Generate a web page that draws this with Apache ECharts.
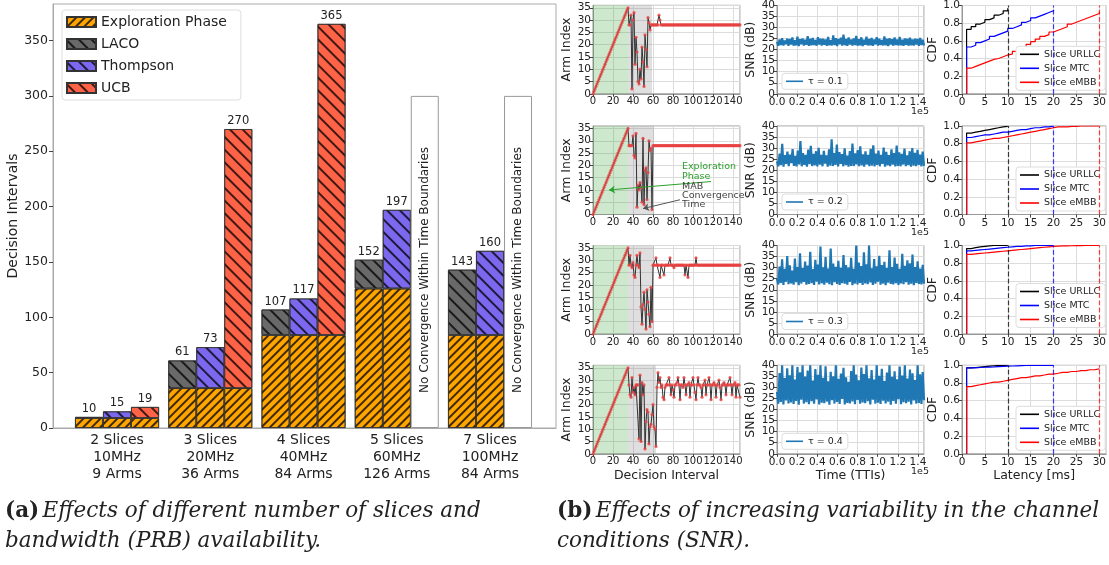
<!DOCTYPE html>
<html><head><meta charset="utf-8">
<script src="https://cdn.jsdelivr.net/npm/echarts@6/dist/echarts.min.js"></script>
<style>html,body{margin:0;padding:0;background:#fff}#c{width:1109px;height:565px}</style>
</head><body><div id="c"></div>
<script>
// ---------------- (a) data ----------------
const categories = ['2 Slices\n10MHz\n9 Arms', '3 Slices\n20MHz\n36 Arms', '4 Slices\n40MHz\n84 Arms', '5 Slices\n60MHz\n126 Arms', '7 Slices\n100MHz\n84 Arms'];
const explorationPhase = [9, 36, 84, 126, 84];
const lacoTotal = [10, 61, 107, 152, 143];
const thompsonTotal = [15, 73, 117, 197, 160];
const ucbTotal = [19, 270, 365, null, null];
const noConvergence = [null, null, null, 300, 300];
const noConvergenceText = 'No Convergence Within Time Boundaries';
const yTicksA = [0, 50, 100, 150, 200, 250, 300, 350];

// ---------------- (b) data ----------------
const tauLabels = ['τ = 0.1', 'τ = 0.2', 'τ = 0.3', 'τ = 0.4'];
const explorationEnd = [35, 35, 35, 35];
const convergenceEnd = [59, 61, 61, 63];

const arm01 = [0,1,2,3,4,5,6,7,8,9,10,11,12,13,14,15,16,17,18,19,20,21,22,23,24,25,26,27,28,29,30,31,32,33,34,35,
 28,28,32,2,30,33,12,23,17,5,4,10,6,19,13,3,24,18,11,31,29,26,28,
 28,28,28,28,28,28,28,32,30,
 28,28,28,28,28,28,28,28,28,28,28,28,28,28,28,28,28,28,28,28,
 28,28,28,28,28,28,28,28,28,28,28,28,28,28,28,28,28,28,28,28,
 28,28,28,28,28,28,28,28,28,28,28,28,28,28,28,28,28,28,28,28,
 28,28,28,28,28,28,28,28,28,28,28,28,28,28,28,28,28,28,28,28];
const arm02 = [0,1,2,3,4,5,6,7,8,9,10,11,12,13,14,15,16,17,18,19,20,21,22,23,24,25,26,27,28,29,30,31,32,33,34,35,
 28,28,28,28,32,24,23,33,3,12,10,13,11,5,31,4,18,19,6,17,30,26,27,2,
 28,28,28,28,28,28,28,28,
 28,28,28,28,28,28,28,28,28,28,28,28,28,28,28,28,28,28,28,28,
 28,28,28,28,28,28,28,28,28,28,28,28,28,28,28,28,28,28,28,28,
 28,28,28,28,28,28,28,28,28,28,28,28,28,28,28,28,28,28,28,28,
 28,28,28,28,28,28,28,28,28,28,28,28,28,28,28,28,28,28,28,28];
const arm03 = [0,1,2,3,4,5,6,7,8,9,10,11,12,13,14,15,16,17,18,19,20,21,22,23,24,25,26,27,28,29,30,31,32,33,34,35,
 28,32,28,27,29,24,23,28,32,28,27,33,11,4,12,17,10,2,18,13,8,3,19,5,
 28,28,28,31,28,28,28,23,28,28,28,24,28,28,28,28,28,31,28,28,28,27,
 28,28,28,28,28,28,28,28,28,28,24,28,28,23,28,28,28,28,28,28,28,31,
 28,28,28,28,28,28,28,28,28,28,28,28,28,28,28,28,28,28,28,28,28,28,
 28,28,28,28,28,28,28,28,28,28,28,28,28,28,28,28,28,28,28,28,28,28];
const arm04 = [0,1,2,3,4,5,6,7,8,9,10,11,12,13,14,15,16,17,18,19,20,21,22,23,24,25,26,27,28,29,30,31,32,33,34,35,
 28,24,23,31,25,27,24,28,28,28,6,32,5,29,24,28,2,13,18,17,4,11,12,16,20,11,10,3,
 27,33,29,31,27,28,23,22,27,28,28,28,31,28,24,28,26,23,28,28,29,31,28,22,28,28,27,31,28,24,28,28,29,23,28,28,31,28,25,22,28,31,28,28,27,23,28,28,30,24,28,28,31,28,22,28,28,29,28,23,28,28,30,27,22,28,28,29,28,24,28,28,28,31,28,24,28,28,29,23,28,28,28,23];
const armRows = [arm01, arm02, arm03, arm04];

const snrSpanTTI = 146000;
const snr01 = [23.5,21.8,24.6,22.1,25.2,21.9,24.1,22.5,25.0,21.7,24.8,22.3,25.5,21.8,24.2,22.0,25.9,21.6,24.7,22.4,25.1,21.9,24.5,22.2,26.1,21.7,24.9,22.0,25.3,22.1,24.4,21.8,25.6,22.3,24.9,21.9,25.0,22.2,24.6,21.7,25.8,22.0,24.3,21.9,26.5,22.1,25.2,21.6,24.8,22.4,25.4,21.8,26.8,22.0,24.9,21.7,25.5,22.3,24.6,21.9,25.1,22.1,26.2,21.8,24.7,22.0,25.6,21.6,24.5,22.2,25.9,21.9,24.8,22.0,25.3,21.7,24.6,22.4,25.7,21.8,25.0,22.1,24.4,21.9,26.0,22.0,24.9,21.6,25.2,22.3,24.7,21.8,25.5,22.1,24.6,21.9,25.8,22.0,24.5,21.7,25.1,22.2,24.9,21.8,25.4,22.0,24.6,21.9,25.0,22.3,24.8,21.7,25.3,22.1,24.5,21.9];
const snr02 = [24.0,21.8,27.5,22.3,32.0,21.6,26.8,22.9,28.4,21.9,27.1,23.2,29.6,22.0,26.5,21.7,28.9,22.6,33.2,21.8,27.7,22.4,26.9,21.6,29.3,22.8,31.0,21.9,27.4,22.2,28.6,21.7,30.1,22.5,27.0,21.8,28.8,23.0,26.7,21.6,29.5,22.1,34.0,21.9,27.8,22.4,31.6,21.7,28.2,22.9,27.3,21.8,29.9,22.3,26.6,21.6,28.7,22.0,32.1,21.9,27.6,22.7,29.1,21.8,30.8,22.2,27.2,21.6,28.5,22.6,26.9,21.9,29.7,22.1,31.3,21.7,27.5,22.4,28.9,21.8,27.0,22.9,30.2,21.6,28.3,22.2,26.8,21.9,29.4,22.5,27.7,21.7,31.1,22.0,28.1,21.8,27.4,22.6,29.8,21.9,26.7,22.3,28.6,21.6,30.0,22.1,27.9,21.8,29.2,22.4,27.1,21.7,28.4,22.0];
const snr03 = [25.0,22.4,30.5,23.1,33.8,22.2,29.4,23.6,35.2,22.5,31.0,22.9,28.7,22.3,34.1,23.4,30.2,22.1,36.5,22.8,29.8,23.5,32.7,22.3,30.9,22.6,37.2,23.0,29.3,22.2,33.5,23.7,31.4,22.4,39.5,22.9,30.1,22.3,34.8,23.2,29.6,22.5,38.6,22.1,31.8,23.4,30.4,22.6,33.1,22.2,29.9,23.0,35.7,22.7,31.2,22.3,30.0,23.5,34.4,22.1,29.5,22.8,40.0,22.4,32.3,23.1,30.7,22.2,36.9,22.9,31.5,22.5,40.0,23.3,29.7,22.2,33.9,22.7,30.6,23.6,35.3,22.3,31.1,22.8,32.6,22.1,29.8,23.2,37.8,22.6,30.3,22.4,34.6,23.0,31.7,22.2,29.4,22.9,36.2,22.5,30.8,23.4,33.3,22.3,31.9,22.7,35.9,22.1,30.2,23.1,32.8,22.6,29.6,22.4,31.3,22.8];
const snr04 = [28.0,22.6,36.5,23.4,40.0,22.3,34.2,24.1,38.7,22.8,35.5,23.2,40.0,22.5,33.6,23.9,39.2,22.2,36.8,24.4,40.0,22.7,34.9,23.3,37.6,22.4,40.0,23.8,33.1,22.6,38.3,24.6,35.7,22.3,40.0,23.1,34.4,22.9,39.6,23.6,32.8,22.2,37.1,24.2,35.0,22.7,40.0,23.4,33.9,22.5,36.3,24.8,38.9,22.3,34.6,23.0,32.5,22.8,37.4,23.7,40.0,22.4,35.8,24.3,33.2,22.6,39.0,23.2,36.0,22.9,40.0,23.8,34.1,22.3,37.9,24.5,33.5,22.7,40.0,23.1,35.2,22.5,38.4,24.0,32.9,22.8,36.7,23.5,40.0,22.2,34.8,23.9,37.3,22.6,33.7,24.7,39.4,22.4,35.4,23.3,40.0,22.9,34.0,23.6,38.1,22.3,36.4,24.1,33.3,22.7,40.0,23.0,35.9,22.5,37.0,24.2];
const snrRows = [snr01, snr02, snr03, snr04];

const sliceNames = ['Slice URLLC', 'Slice MTC', 'Slice eMBB'];
const latencyLimits = [10, 20, 30];
const latencyStart = 1;
// CDF values at latency 1, 2, 3, ... ms
const cdfRows = [
  [ [0.73,0.76,0.79,0.81,0.84,0.86,0.89,0.91,0.94,0.97],
    [0.53,0.55,0.58,0.60,0.62,0.65,0.67,0.69,0.71,0.74,0.76,0.78,0.81,0.83,0.86,0.88,0.90,0.92,0.94,0.95],
    [0.29,0.31,0.33,0.35,0.37,0.39,0.40,0.42,0.44,0.45,0.48,0.51,0.53,0.56,0.59,0.62,0.65,0.67,0.70,0.72,0.74,0.76,0.79,0.81,0.83,0.85,0.87,0.89,0.91,0.93] ],
  [ [0.92,0.93,0.94,0.95,0.96,0.97,0.98,0.99,0.995,1.0],
    [0.87,0.88,0.89,0.90,0.90,0.91,0.92,0.93,0.93,0.94,0.95,0.96,0.96,0.97,0.98,0.98,0.99,0.99,1.0,1.0],
    [0.81,0.82,0.83,0.84,0.85,0.86,0.86,0.87,0.88,0.89,0.90,0.91,0.92,0.93,0.94,0.95,0.96,0.97,0.98,0.99,0.99,0.99,0.995,0.995,1.0,1.0,1.0,1.0,1.0,1.0] ],
  [ [0.965,0.975,0.985,0.99,0.995,1.0,1.0,1.0,1.0,1.0],
    [0.94,0.945,0.95,0.955,0.96,0.965,0.97,0.975,0.98,0.985,0.99,0.99,0.995,0.995,1.0,1.0,1.0,1.0,1.0,1.0],
    [0.90,0.905,0.91,0.915,0.92,0.925,0.93,0.935,0.94,0.945,0.95,0.955,0.96,0.965,0.97,0.975,0.98,0.985,0.99,0.993,0.995,0.996,0.997,0.998,0.999,1.0,1.0,1.0,1.0,1.0] ],
  [ [0.97,0.975,0.98,0.985,0.99,0.995,1.0,1.0,1.0,1.0],
    [0.97,0.972,0.975,0.978,0.98,0.982,0.985,0.988,0.99,0.992,0.994,0.996,0.998,1.0,1.0,1.0,1.0,1.0,1.0,1.0],
    [0.76,0.77,0.78,0.79,0.80,0.81,0.81,0.82,0.83,0.84,0.85,0.86,0.86,0.87,0.88,0.88,0.89,0.90,0.90,0.91,0.92,0.92,0.93,0.93,0.94,0.94,0.95,0.95,0.96,0.96] ]
];

// ---------------- styling / layout ----------------
const FONT = 'DejaVu Sans';
const TXT = '#222';
const FRAME = '#999';
const ROW_TOPS = [5.3, 126, 245.5, 365.3];
const ROW_H = 88.5;
const COLS = [{left: 593, width: 147}, {left: 777, width: 147}, {left: 962, width: 149}];
const SLICE_COLORS = ['#000000', '#0000ff', '#ff0000'];
const Y_MAX_A = 383;

const hatchFwd = {symbol: 'rect', dashArrayX: [1, 0], dashArrayY: [1.1, 3.2], rotation: -Math.PI / 4, color: 'rgba(0,0,0,0.75)'};
const hatchBack = {symbol: 'rect', dashArrayX: [1, 0], dashArrayY: [1.1, 7], rotation: Math.PI / 4, color: 'rgba(0,0,0,0.75)'};

const grids = [
  {left: 53, top: 4, width: 503, height: 424, show: true, borderColor: '#aaa', borderWidth: 1},
  {left: 70.4, top: 4, width: 466.25, height: 424, show: false}
];
const xAxes = [
  {type: 'value', gridIndex: 0, min: 0, max: 1, axisLine: {show: true, onZero: false, lineStyle: {color: '#aaa'}},
   axisTick: {show: false}, axisLabel: {show: false}, splitLine: {show: false}},
  {type: 'category', gridIndex: 1, data: categories, axisLine: {show: false}, axisTick: {show: false}, splitLine: {show: false},
   axisLabel: {fontSize: 14, lineHeight: 17, color: TXT, margin: 4}}
];
const yAxes = [
  {type: 'value', gridIndex: 0, min: 0, max: Y_MAX_A,
   axisLine: {show: true, onZero: false, lineStyle: {color: '#aaa'}},
   axisTick: {show: true, length: 4, customValues: yTicksA, lineStyle: {color: '#444'}},
   splitLine: {show: false},
   axisLabel: {customValues: yTicksA, fontSize: 12.5, color: TXT, margin: 5},
   name: 'Decision Intervals', nameLocation: 'middle', nameGap: 31, nameTextStyle: {fontSize: 14, color: TXT}},
  {type: 'value', gridIndex: 1, min: 0, max: Y_MAX_A, show: false}
];

const series = [];
const columns = [
  {name: 'LACO', totals: lacoTotal, color: '#696969', stack: 'laco'},
  {name: 'Thompson', totals: thompsonTotal, color: '#7b68ee', stack: 'thompson'},
  {name: 'UCB', totals: ucbTotal, color: '#ff6347', stack: 'ucb'}
];
columns.forEach(col => {
  series.push({
    type: 'bar', name: 'Exploration Phase', stack: col.stack, xAxisIndex: 1, yAxisIndex: 1,
    barWidth: 28, barGap: '0%',
    data: explorationPhase.map((v, i) => col.totals[i] == null ? '-' : v),
    itemStyle: {color: '#ffa500', borderColor: '#333', borderWidth: 0.8, decal: hatchFwd}
  });
  series.push({
    type: 'bar', name: col.name, stack: col.stack, xAxisIndex: 1, yAxisIndex: 1,
    barWidth: 28, barGap: '0%',
    data: col.totals.map((t, i) => t == null ? '-' : t - explorationPhase[i]),
    itemStyle: {color: col.color, borderColor: '#333', borderWidth: 0.8, decal: hatchBack},
    label: {show: true, position: 'top', distance: 2, fontSize: 11.5, color: TXT, formatter: p => col.totals[p.dataIndex]}
  });
});
series.push({
  type: 'bar', name: 'No Convergence', stack: 'ucb', xAxisIndex: 1, yAxisIndex: 1,
  barWidth: 28, barGap: '0%',
  data: noConvergence.map(v => v == null ? '-' : v),
  itemStyle: {color: '#ffffff', borderColor: '#999', borderWidth: 1},
  label: {show: true, position: 'inside', rotate: 90, offset: [-8, 0], fontSize: 12, color: TXT, formatter: noConvergenceText}
});

const legends = [{
  data: ['Exploration Phase', 'LACO', 'Thompson', 'UCB'],
  left: 62, top: 10, orient: 'vertical', icon: 'rect', itemWidth: 29, itemHeight: 10, itemGap: 8,
  padding: [5, 14, 5, 4], backgroundColor: '#fff', borderColor: '#ddd', borderWidth: 1, borderRadius: 3,
  textStyle: {fontSize: 14, color: TXT}, selectedMode: false
}];
const graphics = [];

function frameAxis(extra) {
  return Object.assign({
    type: 'value',
    axisLine: {show: true, onZero: false, lineStyle: {color: FRAME}},
    axisTick: {show: true, length: 3, lineStyle: {color: '#444'}},
    splitLine: {show: true, lineStyle: {color: '#dcdcdc', width: 1}},
    axisLabel: {fontSize: 10.5, color: TXT, margin: 3, showMaxLabel: false}
  }, extra);
}

for (let r = 0; r < 4; r++) {
  const top = ROW_TOPS[r];
  const last = r === 3;
  COLS.forEach(c => grids.push({left: c.left, top: top, width: c.width, height: ROW_H, show: true, borderColor: FRAME, borderWidth: 1}));
  const g = 2 + r * 3;
  // arm index
  xAxes.push(frameAxis({gridIndex: g, min: 0, max: 147, interval: 20,
    axisLabel: {fontSize: 10, color: TXT, margin: 3, showMaxLabel: false},
    name: last ? 'Decision Interval' : '', nameLocation: 'middle', nameGap: 15, nameTextStyle: {fontSize: 12.5, color: TXT}}));
  yAxes.push(frameAxis({gridIndex: g, min: 0, max: 36, interval: 5,
    axisLabel: {fontSize: 10.5, color: TXT, margin: 2, showMaxLabel: false},
    name: 'Arm Index', nameLocation: 'middle', nameGap: 15, nameTextStyle: {fontSize: 12.5, color: TXT}}));
  // snr
  xAxes.push(frameAxis({gridIndex: g + 1, min: 0, max: snrSpanTTI, interval: 20000,
    axisLabel: {fontSize: 10.5, color: TXT, margin: 3, showMaxLabel: false, formatter: v => (v / 1e5).toFixed(1)},
    name: last ? 'Time (TTIs)' : '', nameLocation: 'middle', nameGap: 15, nameTextStyle: {fontSize: 12.5, color: TXT}}));
  yAxes.push(frameAxis({gridIndex: g + 1, min: 0, max: 40, interval: 5,
    axisLabel: {fontSize: 10.5, color: TXT, margin: 2},
    name: 'SNR (dB)', nameLocation: 'middle', nameGap: 14, nameTextStyle: {fontSize: 12.5, color: TXT}}));
  // cdf
  xAxes.push(frameAxis({gridIndex: g + 2, min: 0, max: 31.5, interval: 5,
    name: last ? 'Latency [ms]' : '', nameLocation: 'middle', nameGap: 15, nameTextStyle: {fontSize: 12.5, color: TXT}}));
  yAxes.push(frameAxis({gridIndex: g + 2, min: 0, max: 1, interval: 0.2,
    axisLabel: {fontSize: 10.5, color: TXT, margin: 2, formatter: v => v.toFixed(1)},
    name: 'CDF', nameLocation: 'middle', nameGap: 16, nameTextStyle: {fontSize: 12.5, color: TXT}}));

  const armSeries = {
    type: 'line', name: 'arm' + r, xAxisIndex: g, yAxisIndex: g,
    data: armRows[r].map((v, i) => [i, v]),
    symbol: 'circle', symbolSize: 3.2, showSymbol: true, showAllSymbol: true,
    itemStyle: {color: '#e84040', opacity: 0.8}, lineStyle: {color: '#333', width: 1},
    z: 3,
    markArea: {silent: true, data: [
      [{xAxis: 0, itemStyle: {color: 'rgba(44,160,44,0.24)'}}, {xAxis: explorationEnd[r]}],
      [{xAxis: explorationEnd[r], itemStyle: {color: 'rgba(140,140,140,0.28)'}}, {xAxis: convergenceEnd[r]}]
    ]}
  };
  if (r === 1) {
    armSeries.markPoint = {symbol: 'circle', symbolSize: 0, silent: true, data: [
      {coord: [89, 17.3], label: {show: true, position: 'right', distance: 0, formatter: 'Exploration\nPhase', color: '#2ca02c', fontSize: 9.5, lineHeight: 10}},
      {coord: [89, 7.7], label: {show: true, position: 'right', distance: 0, formatter: 'MAB\nConvergence\nTime', color: '#444', fontSize: 9.5, lineHeight: 9}}
    ]};
    armSeries.markLine = {symbol: ['none', 'arrow'], symbolSize: 6, silent: true, label: {show: false}, data: [
      [{coord: [118, 13.4], lineStyle: {color: '#2ca02c', width: 1, type: 'solid'}}, {coord: [16, 10]}],
      [{coord: [87, 6], lineStyle: {color: '#555', width: 1, type: 'solid'}}, {coord: [50, 2.4]}]
    ]};
  }
  series.push(armSeries);

  const snr = snrRows[r];
  series.push({
    type: 'line', name: tauLabels[r], xAxisIndex: g + 1, yAxisIndex: g + 1,
    data: snr.map((v, i) => [i * snrSpanTTI / (snr.length - 1), v]),
    symbol: 'none', showSymbol: false, lineStyle: {color: '#1f77b4', width: 2.2, join: 'bevel'}, itemStyle: {color: '#1f77b4'}
  });
  legends.push({
    data: [tauLabels[r]], left: 782, top: top + 68, icon: 'rect', itemWidth: 17, itemHeight: 1.6, padding: [3, 5, 3, 4],
    backgroundColor: '#fff', borderColor: '#ddd', borderWidth: 1, borderRadius: 3,
    textStyle: {fontSize: 9.5, color: TXT}, selectedMode: false
  });
  graphics.push({type: 'text', left: 911, top: top + ROW_H + 13, style: {text: '1e5', fontSize: 9.5, fill: TXT, fontFamily: FONT}});

  cdfRows[r].forEach((vals, k) => {
    series.push({
      type: 'line', name: sliceNames[k], xAxisIndex: g + 2, yAxisIndex: g + 2, step: 'end',
      data: [[latencyStart, 0]].concat(vals.map((v, i) => [latencyStart + i, v])),
      symbol: 'none', showSymbol: false, lineStyle: {color: SLICE_COLORS[k], width: 1.2}, itemStyle: {color: SLICE_COLORS[k]},
      markLine: {symbol: 'none', silent: true, label: {show: false},
        lineStyle: {type: 'dashed', color: SLICE_COLORS[k], width: 1.2, opacity: 0.75}, data: [{xAxis: latencyLimits[k]}]}
    });
  });
  legends.push({
    data: sliceNames, left: 1016, top: top + [41, 41, 38, 41][r], orient: 'vertical', icon: 'rect', itemWidth: 19, itemHeight: 1.6, itemGap: 4,
    padding: [3, 5, 3, 4], backgroundColor: '#fff', borderColor: '#ddd', borderWidth: 1, borderRadius: 3,
    textStyle: {fontSize: 9.5, color: TXT}, selectedMode: false
  });
}

const richCaption = {
  b: {fontFamily: 'DejaVu Serif', fontWeight: 'bold', fontSize: 21.5, fill: TXT, lineHeight: 30},
  i: {fontFamily: 'DejaVu Serif', fontStyle: 'italic', fontSize: 21.5, fill: TXT, lineHeight: 30}
};
graphics.push({type: 'text', left: 5, top: 500, style: {
  text: '{b|(a)} {i|Effects of different number of slices and}\n{i|bandwidth (PRB) availability.}', rich: richCaption}});
graphics.push({type: 'text', left: 557, top: 500, style: {
  text: '{b|(b)} {i|Effects of increasing variability in the channel}\n{i|conditions (SNR).}', rich: richCaption}});

const chart = echarts.init(document.getElementById('c'));
chart.setOption({
  animation: false,
  textStyle: {fontFamily: FONT},
  grid: grids, xAxis: xAxes, yAxis: yAxes, legend: legends, series: series, graphic: graphics
});
</script></body></html>
